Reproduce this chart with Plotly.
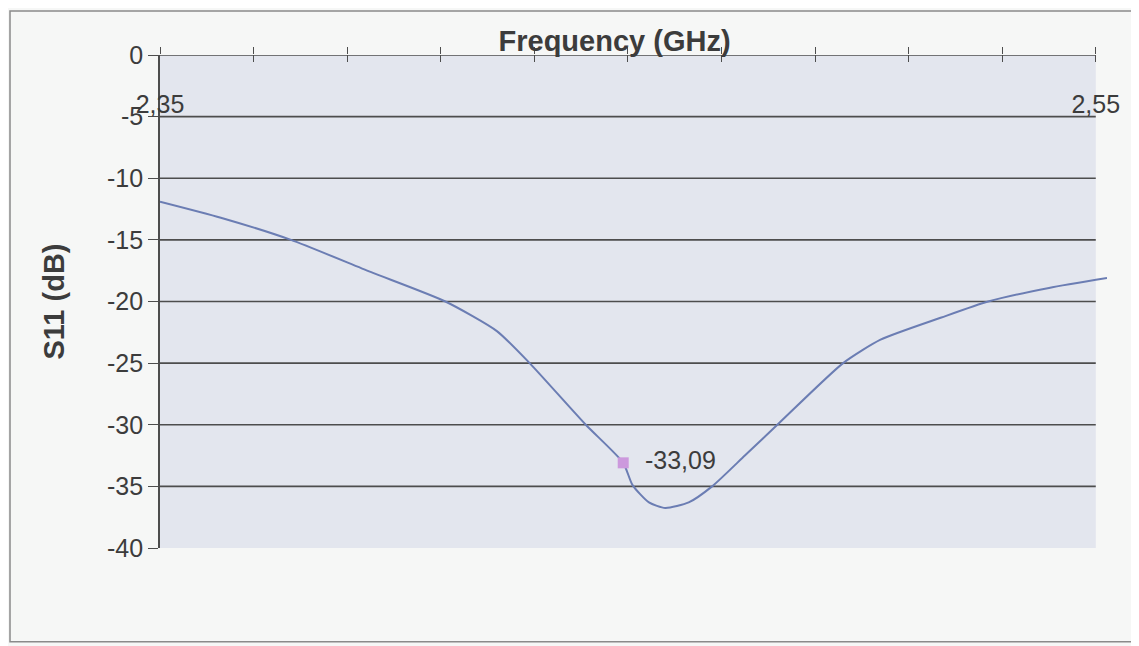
import plotly.graph_objects as go

# ---- data ----
freq_ghz = [2.350, 2.363, 2.378, 2.395, 2.411, 2.422, 2.429, 2.441, 2.449, 2.451,
            2.4545, 2.458, 2.463, 2.468, 2.475, 2.4825, 2.496, 2.504, 2.517, 2.527,
            2.540, 2.5524]
s11_db = [-11.9, -13.2, -15.0, -17.6, -20.0, -22.4, -25.0, -30.0, -33.09, -34.9,
          -36.3, -36.75, -36.3, -35.0, -32.5, -29.8, -25.0, -23.1, -21.3, -20.0,
          -18.9, -18.1]

marker_freq = [2.449]
marker_val = [-33.09]
marker_label = ["-33,09"]

y_ticks = [0, -5, -10, -15, -20, -25, -30, -35, -40]
y_ticktext = ["0", "-5", "-10", "-15", "-20", "-25", "-30", "-35", "-40"]
x_ticks = [2.35, 2.37, 2.39, 2.41, 2.43, 2.45, 2.47, 2.49, 2.51, 2.53, 2.55]
x_label_vals = [2.35, 2.55]
x_label_text = ["2,35", "2,55"]

x_min, x_max = 2.35, 2.55
x_range = [2.35, 2.5524]
y_range = [-40, 0]

FONT = "Liberation Sans, Arial, sans-serif"
GRID = "#4d4d4d"
TXT = "#3c3c3c"

fig = go.Figure()

fig.add_trace(go.Scatter(
    x=freq_ghz, y=s11_db, mode="lines",
    line=dict(color="#6b7db3", width=2, shape="spline", smoothing=0.6),
    cliponaxis=False, showlegend=False, hoverinfo="x+y"))

fig.add_trace(go.Scatter(
    x=marker_freq, y=marker_val, mode="markers+text",
    marker=dict(symbol="square", size=11, color="#cc99dd"),
    text=marker_label, texttemplate="  %{text}", textposition="middle right",
    textfont=dict(family=FONT, size=25, color=TXT),
    cliponaxis=False, showlegend=False))

# invisible traces so the overlaying top axes are drawn
fig.add_trace(go.Scatter(x=x_range, y=y_range, xaxis="x2", mode="markers",
                         marker=dict(opacity=0), showlegend=False, hoverinfo="skip"))
fig.add_trace(go.Scatter(x=x_range, y=y_range, xaxis="x3", mode="markers",
                         marker=dict(opacity=0), showlegend=False, hoverinfo="skip"))

shapes = []
# plot-area background limited to the axis span
shapes.append(dict(type="rect", xref="x", yref="y", x0=x_min, x1=x_max,
                   y0=y_range[0], y1=y_range[1], fillcolor="#e3e6ee",
                   line=dict(width=0), layer="below"))
# horizontal gridlines
for v in y_ticks[1:-1]:
    shapes.append(dict(type="line", xref="x", yref="y", x0=x_min, x1=x_max,
                       y0=v, y1=v, line=dict(color=GRID, width=1.6), layer="below"))
# top category axis line at 0
shapes.append(dict(type="line", xref="x", yref="y", x0=x_min, x1=x_max,
                   y0=0, y1=0, line=dict(color=GRID, width=1.6), layer="below"))
# outer chart border
shapes.append(dict(type="rect", xref="paper", yref="paper", x0=-0.1584, x1=1.1,
                   y0=-0.19, y1=1.089, line=dict(color="#8a8a8a", width=1.5),
                   fillcolor="rgba(0,0,0,0)", layer="below"))

fig.update_layout(
    width=1131, height=638,
    margin=dict(l=152, r=32, t=47, b=98, autoexpand=False),
    paper_bgcolor="#f6f7f6", plot_bgcolor="rgba(0,0,0,0)",
    font=dict(family=FONT, color=TXT),
    shapes=shapes,
    title=dict(text="<b>Frequency (GHz)</b>", x=0.48, xref="paper", xanchor="center",
               y=1.0, yref="paper", yanchor="bottom", pad=dict(b=4),
               font=dict(family=FONT, size=29, color=TXT)),
    xaxis=dict(range=x_range, side="top", tickvals=x_ticks, ticks="outside",
               ticklen=7, tickcolor=GRID, tickwidth=1.4, showticklabels=False,
               showgrid=False, zeroline=False, showline=False, automargin=False),
    xaxis2=dict(range=x_range, overlaying="x", side="top", tickvals=x_label_vals,
                ticktext=x_label_text, ticks="", ticklabelposition="inside",
                ticklabeloverflow="allow", ticklabelstandoff=37, automargin=False,
                tickfont=dict(family=FONT, size=25, color=TXT),
                showgrid=False, zeroline=False, showline=False),
    xaxis3=dict(range=x_range, overlaying="x", side="top", tickvals=x_ticks,
                ticks="inside", ticklen=7, tickcolor=GRID, tickwidth=1.4,
                showticklabels=False, automargin=False,
                showgrid=False, zeroline=False, showline=False),
    yaxis=dict(range=y_range, tickvals=y_ticks, ticktext=y_ticktext,
               ticks="outside", ticklen=10, tickcolor=GRID, tickwidth=1.4,
               showline=True, linecolor=GRID, linewidth=1.6, automargin=False,
               showgrid=False, zeroline=False,
               tickfont=dict(family=FONT, size=25, color=TXT),
               title=dict(text="<b>S11 (dB)</b>", standoff=34,
                          font=dict(family=FONT, size=29, color=TXT))),
)

fig.write_html("out.html")
